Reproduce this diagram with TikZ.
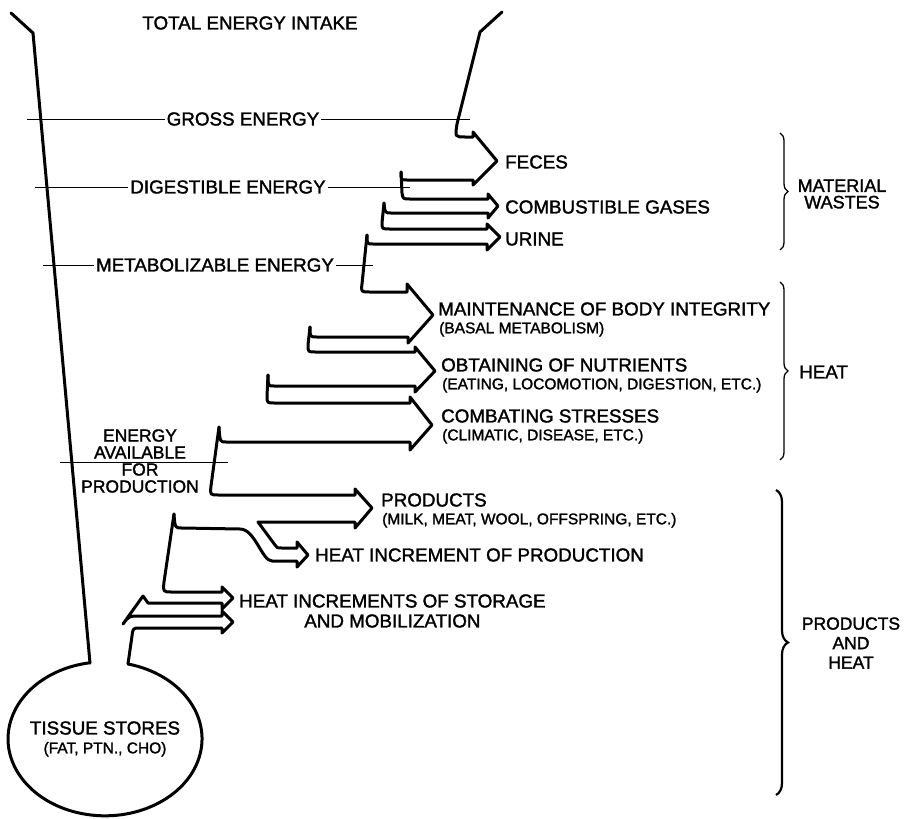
\documentclass[tikz,border=0pt]{standalone}
\usepackage{fontspec}
\setmainfont{Liberation Sans}
\newfontfamily\signfont{Liberation Sans}[RawFeature={embolden=1.6}]
\usepackage{tikz}
\usetikzlibrary{positioning, decorations.pathreplacing}

\begin{document}
\begin{tikzpicture}[
    x=1pt, y=-1pt,
    wall/.style={line width=3pt, line join=round, line cap=round},
    ruler/.style={line width=1pt},
    lbl/.style={font=\signfont\fontsize{18.8}{20}\selectfont, inner sep=2pt},
    sublbl/.style={font=\signfont\fontsize{15.5}{18}\selectfont, inner sep=1pt},
    bracket/.style={decorate, decoration={brace, amplitude=8pt}, line width=1.3pt}
]
    \useasboundingbox (0,0) rectangle (905,819);

    \node[lbl] (intake) at (250,23) {TOTAL ENERGY INTAKE};
    \node[lbl] (gross) at (243,119) {GROSS ENERGY};
    \node[lbl] (digest) at (228,187) {DIGESTIBLE ENERGY};
    \node[lbl] (metab) at (215,265) {METABOLIZABLE ENERGY};
    \draw[ruler] (27,119) -- (gross) -- (470,119);
    \draw[ruler] (35,187) -- (digest) -- (410,187);
    \draw[ruler] (43,265) -- (metab) -- (373,265);

    \node[lbl, align=center, font=\signfont\fontsize{17.5}{17}\selectfont] (avail) at (140,461)
        {ENERGY\\AVAILABLE\\FOR\\PRODUCTION};
    \draw[ruler] (60,462) -- (228,462);

    \draw[wall] (11,13) -- (33,33) -- (90,663);
    \draw[wall] (128,664) arc[start angle=-76.3, end angle=261.1, x radius=97, y radius=77];

    \draw[wall] (502,12) -- (480,32) -- (457,124)
        .. controls (455,137) .. (465,137) -- (473,137) -- (473,132)
        -- (497,161) -- (473,185) -- (473,180) -- (407,180)
        .. controls (401,180) .. (401,172);
    \draw[wall] (401,172) -- (402,193) .. controls (403,199) .. (410,199)
        -- (488,199) -- (488,194) -- (498,206) -- (488,218) -- (488,213)
        -- (391,213) .. controls (385,213) .. (384,203);
    \draw[wall] (384,203) -- (382,223) .. controls (382,229) .. (390,229)
        -- (487,229) -- (487,224) -- (500,237) -- (487,250) -- (487,244)
        -- (373,244) .. controls (367,244) .. (367,235);
    \draw[wall] (367,235) -- (362,284) .. controls (361,292) .. (370,292)
        -- (407,292) -- (407,284) -- (433,315) -- (408,343) -- (408,337)
        -- (317,337) .. controls (310,337) .. (310,327);
    \draw[wall] (310,327) -- (308,345) .. controls (308,352) .. (316,352)
        -- (415,352) -- (415,347) -- (435,371) -- (415,392) -- (415,386)
        -- (274,386) .. controls (268,386) .. (268,375);
    \draw[wall] (268,375) -- (267,396) .. controls (267,403) .. (275,403)
        -- (410,403) -- (410,397) -- (432,425) -- (410,450) -- (410,442)
        -- (226,442) .. controls (220,442) .. (219,427);
    \draw[wall] (219,427) -- (211,486) .. controls (210,495) .. (219,495)
        -- (355,495) -- (355,489) -- (372,508) -- (355,528) -- (355,522)
        -- (258,522) -- (275,545) .. controls (277,548) .. (282,548)
        -- (297,548) -- (297,542) -- (308,555) -- (297,567) -- (297,561)
        -- (272,561) .. controls (262,561) and (255,529) .. (240,529)
        -- (182,528) .. controls (175,528) .. (174,514);
    \draw[wall] (174,514) -- (164,582) .. controls (163,592) .. (172,592)
        -- (222,592) -- (222,587) -- (233,598) -- (222,609) -- (222,603)
        -- (148,603) -- (143,596) -- (123,624) .. controls (129,616) .. (140,616)
        -- (222,616) -- (222,611) -- (233,622) -- (222,633) -- (222,628)
        -- (140,628) .. controls (133,628) .. (132,636) -- (128,664);

    \node[lbl, anchor=west] (feces) at (503,162) {FECES};
    \node[lbl, anchor=west] (gases) at (503,207) {COMBUSTIBLE GASES};
    \node[lbl, anchor=west] (urine) at (503,239) {URINE};
    \node[lbl, anchor=west] (maint) at (436,309) {MAINTENANCE OF BODY INTEGRITY};
    \node[sublbl, below right=3pt and 2pt of maint.south west] (basal) {(BASAL METABOLISM)};
    \node[lbl, anchor=west] (obtain) at (439,365) {OBTAINING OF NUTRIENTS};
    \node[sublbl, below right=3pt and 2pt of obtain.south west] (eating) {(EATING, LOCOMOTION, DIGESTION, ETC.)};
    \node[lbl, anchor=west] (combat) at (439,416) {COMBATING STRESSES};
    \node[sublbl, below right=3pt and 2pt of combat.south west] (climatic) {(CLIMATIC, DISEASE, ETC.)};
    \node[lbl, anchor=west] (products) at (379,500) {PRODUCTS};
    \node[sublbl, below right=3pt and 2pt of products.south west] (milk) {(MILK, MEAT, WOOL, OFFSPRING, ETC.)};
    \node[lbl, anchor=west] (heatprod) at (313,555) {HEAT INCREMENT OF PRODUCTION};
    \node[lbl, anchor=west, align=center] (storage) at (237,611)
        {HEAT INCREMENTS OF STORAGE\\AND MOBILIZATION};

    \node[lbl] (tissue) at (105,728) {TISSUE STORES};
    \node[sublbl, below=4pt of tissue] (tissuesub) {(FAT, PTN., CHO)};

    \draw[bracket] (780,133) -- (780,250);
    \draw[bracket] (780,282) -- (780,460);
    \draw[bracket, line width=2.2pt, decoration={brace, amplitude=12pt}] (776,490) -- (776,795);

    \node[lbl, align=center, font=\signfont\fontsize{18}{16.5}\selectfont] (wastes) at (842,194) {MATERIAL\\WASTES};
    \node[lbl, anchor=west] (heat) at (797,372) {HEAT};
    \node[lbl, align=center, font=\signfont\fontsize{17.5}{19.5}\selectfont] (prodheat) at (851,643) {PRODUCTS\\AND\\HEAT};
\end{tikzpicture}
\end{document}
